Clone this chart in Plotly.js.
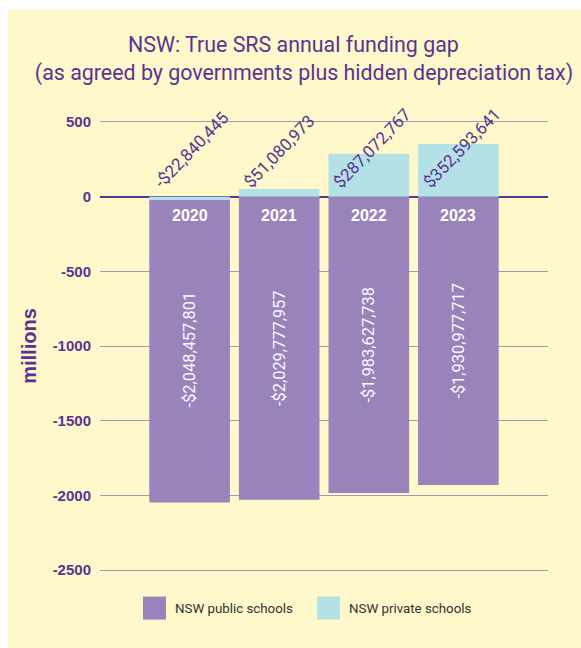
<!DOCTYPE html>
<html>
<head>
<meta charset="utf-8">
<script src="https://cdn.plot.ly/plotly-3.0.1.min.js"></script>
<style>
  html, body { margin: 0; padding: 0; background: #ffffff; }
  #chart { position: absolute; left: 8px; top: 10px; width: 573px; height: 638px; }
</style>
</head>
<body>
<div id="chart"></div>
<script>
// ---- data ----
var years = ["2020", "2021", "2022", "2023"];
var publicGap = [-2048457801, -2029777957, -1983627738, -1930977717];
var privateGap = [-22840445, 51080973, 287072767, 352593641];
var seriesNames = ["NSW public schools", "NSW private schools"];
var yTicks = [500, 0, -500, -1000, -1500, -2000, -2500];

// ---- style ----
var PURPLE = "#9883bb";
var BLUE = "#b3e1e6";
var INK = "#5a3492";
var BG = "#fef8ca";
var FONT = "Roboto, 'Liberation Sans', Arial, sans-serif";
var BOLDFONT = "'Liberation Sans', Arial, sans-serif";

function money(v) {
  var s = Math.abs(v).toLocaleString("en-US");
  return (v < 0 ? "-$" : "$") + s;
}
function millions(arr) { return arr.map(function (v) { return v / 1e6; }); }

var tracePublic = {
  type: "bar",
  name: seriesNames[0],
  x: years,
  y: millions(publicGap),
  marker: { color: PURPLE },
  text: publicGap.map(money),
  textposition: "inside",
  insidetextanchor: "middle",
  textangle: -90,
  constraintext: "none",
  insidetextfont: { family: FONT, size: 16.4, color: "#fbf8ff" },
  hoverinfo: "skip",
  showlegend: false
};
var tracePrivate = {
  type: "bar",
  name: seriesNames[1],
  x: years,
  y: millions(privateGap),
  marker: { color: BLUE },
  hoverinfo: "skip",
  showlegend: false
};

var annotations = [];
years.forEach(function (yr, i) {
  // category axis: position annotations by category index
  annotations.push({
    x: i, y: 0, xref: "x", yref: "y",
    text: "<b>" + yr + "</b>", showarrow: false,
    yanchor: "middle", yshift: -19,
    font: { family: BOLDFONT, size: 16, color: "#ffffff" }
  });
  annotations.push({
    x: i, y: 0, xref: "x", yref: "y",
    text: money(privateGap[i]), showarrow: false,
    textangle: -46, xanchor: "left", yanchor: "bottom",
    xshift: -42, yshift: 2,
    font: { family: FONT, size: 17, color: INK }
  });
});
// custom legend (large swatches)
var shapes = [
  { type: "rect", xref: "paper", yref: "paper", x0: 0.096, x1: 0.1473, y0: -0.1026, y1: -0.0519, fillcolor: PURPLE, line: { width: 0 } },
  { type: "rect", xref: "paper", yref: "paper", x0: 0.4844, x1: 0.5357, y0: -0.1026, y1: -0.0519, fillcolor: BLUE, line: { width: 0 } }
];
annotations.push({ xref: "paper", yref: "paper", x: 0.162, y: -0.0772, xanchor: "left", yanchor: "middle",
  text: seriesNames[0], showarrow: false, font: { family: FONT, size: 13.3, color: "#333333" } });
annotations.push({ xref: "paper", yref: "paper", x: 0.552, y: -0.0772, xanchor: "left", yanchor: "middle",
  text: seriesNames[1], showarrow: false, font: { family: FONT, size: 13.3, color: "#333333" } });

var pad = "&nbsp;".repeat(4);
var layout = {
  width: 573, height: 638,
  paper_bgcolor: BG, plot_bgcolor: BG,
  margin: { l: 92, r: 33, t: 109, b: 75 },
  barmode: "overlay",
  bargap: 0.1,
  showlegend: false,
  title: {
    text: "NSW: True SRS annual funding gap" + pad + "<br>(as agreed by governments plus hidden depreciation tax)",
    x: 0.5166, xref: "container", xanchor: "center",
    y: 0.9335, yref: "container", yanchor: "middle",
    font: { family: FONT, size: 21.4, color: INK }
  },
  xaxis: {
    type: "category", range: [-1, 4],
    showticklabels: false, showgrid: false, zeroline: false, showline: false, ticks: ""
  },
  yaxis: {
    range: [-2520, 520],
    tickvals: yTicks,
    ticktext: yTicks.map(String),
    showgrid: true, gridcolor: "#a595b6", gridwidth: 1,
    zeroline: true, zerolinecolor: "#5a3492", zerolinewidth: 2,
    showline: false, ticks: "",
    ticklabelstandoff: 8,
    tickfont: { family: BOLDFONT, size: 15, color: INK, weight: "bold" },
    title: { text: "<b>millions</b>", standoff: 10, font: { family: BOLDFONT, size: 20, color: INK } }
  },
  annotations: annotations,
  shapes: shapes
};

Plotly.newPlot("chart", [tracePublic, tracePrivate], layout, { displayModeBar: false, staticPlot: true });
</script>
</body>
</html>
